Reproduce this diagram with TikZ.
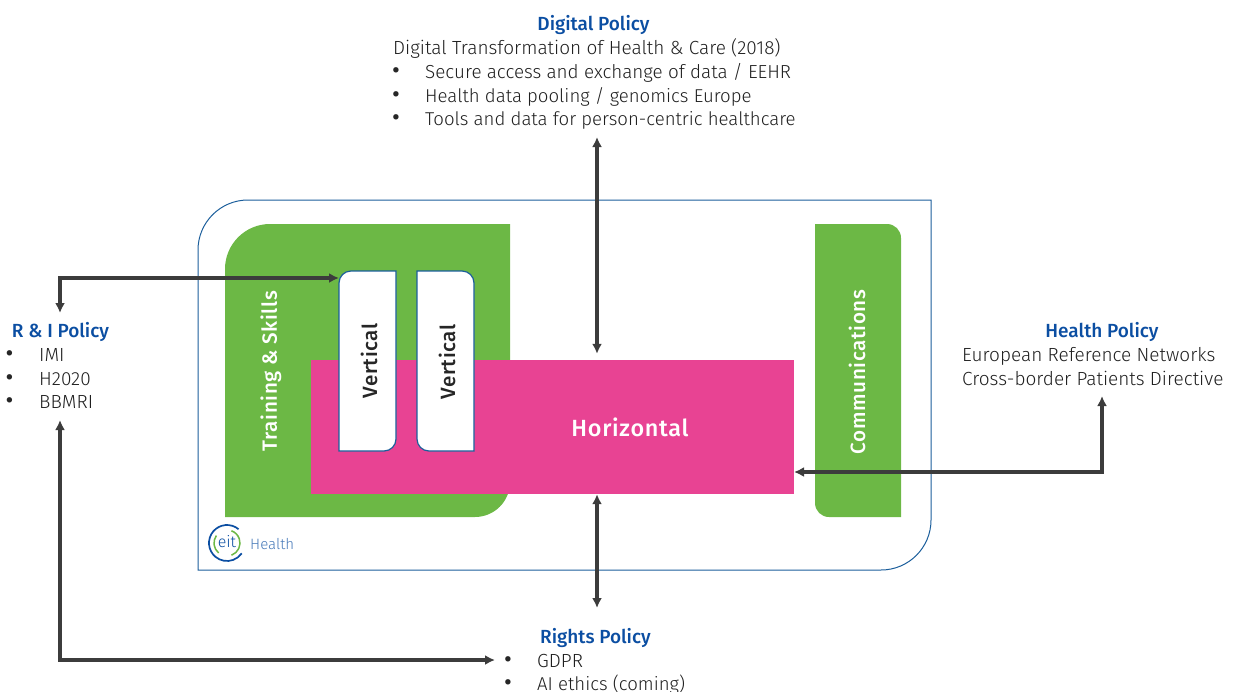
\documentclass[tikz,border=0pt]{standalone}
\usepackage{fontspec}
\setmainfont{Fira Sans Light}[BoldFont={Fira Sans Medium}]
\newfontfamily\boxfont{Fira Sans Medium}[LetterSpace=3]
\newfontfamily\bulfont{Fira Sans}
\usetikzlibrary{arrows.meta}
\definecolor{eblue}{HTML}{0B4EA2}
\definecolor{egreen}{HTML}{6CB845}
\definecolor{epink}{HTML}{E84393}
\definecolor{edark}{HTML}{3C3C3C}
\definecolor{eedge}{HTML}{1B5E9B}
\tikzset{
 x=1pt,y=-1pt,
 arr/.style={draw=edark,line width=3.1pt,{Latex[length=10pt,width=10pt]}-{Latex[length=10pt,width=10pt]}},
 head/.style={anchor=base,inner sep=0pt,font=\fontsize{19}{19}\selectfont\bfseries,text=eblue},
 body/.style={anchor=base west,inner sep=0pt,font=\fontsize{19}{19}\selectfont,text=black!88},
 bodyn/.style={body,font=\fontsize{18.6}{19}\selectfont},
 bul/.style={anchor=base west,inner sep=0pt,font=\fontsize{24}{24}\bulfont,text=black!85},
 inbox/.style={anchor=center,inner sep=0pt,font=\fontsize{20.6}{21}\selectfont\boxfont,text=white},
 vert/.style={fill=white,draw=eedge,line width=1.2pt},
}
\begin{document}
\begin{tikzpicture}
\useasboundingbox (0,0) rectangle (1236,691);
% outer frame
\draw[eedge,line width=1pt] (198,250) arc[start angle=180,end angle=270,radius=50] -- (931,200) -- (931,520) arc[start angle=0,end angle=90,radius=50] -- (198,570) -- cycle;
% green panels
\fill[egreen] (225,269) arc[start angle=180,end angle=270,radius=45] -- (510,224) -- (510,482) arc[start angle=0,end angle=90,radius=35] -- (225,517) -- cycle;
\fill[egreen] (815,224) -- (887,224) arc[start angle=270,end angle=360,radius=14] -- (901,517) -- (829,517) arc[start angle=90,end angle=180,radius=14] -- cycle;
\node[minimum width=483pt,minimum height=134pt,inner sep=0pt,fill=epink] (pink) at (552.5,427) {};
\node[inbox,font=\fontsize{23.4}{24}\selectfont\boxfont] (horiz) at (630,427) {Horizontal};
% verticals
\draw[vert] (339,283) arc[start angle=180,end angle=270,radius=12] -- (396,271) -- (396,439) arc[start angle=0,end angle=90,radius=12] -- (339,451) -- cycle;
\draw[vert] (417,271) -- (462,271) arc[start angle=270,end angle=360,radius=12] -- (474,451) -- (429,451) arc[start angle=90,end angle=180,radius=12] -- cycle;
\node[inbox,text=black!85,rotate=90] (v1) at (369,361) {Vertical};
\node[inbox,text=black!85,rotate=90] (v2) at (447,362) {Vertical};
\node[inbox,rotate=90] (train) at (271,371) {Training \& Skills};
\node[inbox,rotate=90] (comm) at (857,372) {Communications};
% logo
\draw[eblue,line width=1.7pt] (227,543) ++(-50:18) arc[start angle=-50,end angle=-325,radius=18];
\draw[egreen,line width=1.5pt] (227,543) ++(70:13) arc[start angle=70,end angle=-70,radius=13];
\draw[egreen,line width=1.5pt] (227,543) ++(215:13) arc[start angle=215,end angle=130,radius=13];
\node[anchor=center,inner sep=0pt,font=\fontsize{16}{16}\selectfont,text=eblue] (eit) at (227,542) {eit};
\node[anchor=west,inner sep=0pt,font=\fontsize{15}{15}\selectfont,text=eblue!75] (hl) at (250,544) {Health};
% Digital
\node[head] (dh) at (593.5,30) {Digital Policy};
\node[body] (d1) at (393,54) {Digital Transformation of Health \& Care (2018)};
\node[bul] (d2b) at (392,78) {•};
\node[body,font=\fontsize{18.85}{19}\selectfont] (d2) at (425,78) {Secure access and exchange of data / EEHR};
\node[bul] (d3b) at (392,102) {•};
\node[bodyn] (d3) at (425,102) {Health data pooling / genomics Europe};
\node[bul] (d4b) at (392,125.5) {•};
\node[bodyn] (d4) at (425,125.5) {Tools and data for person-centric healthcare};
% R&I
\node[head] (rh) at (60.5,337) {R \& I Policy};
\node[bul] (r1b) at (5.5,361) {•};
\node[body] (r1) at (39,361) {IMI};
\node[bul] (r2b) at (5.5,385) {•};
\node[body] (r2) at (39,385) {H2020};
\node[bul] (r3b) at (5.5,408) {•};
\node[body] (r3) at (39,408) {BBMRI};
% Health
\node[head] (hh) at (1102,337) {Health Policy};
\node[body] (h1) at (962,361) {European Reference Networks};
\node[body] (h2) at (962,385) {Cross-border Patients Directive};
% Rights
\node[head] (gh) at (595.5,643) {Rights Policy};
\node[bul] (g1b) at (504,667) {•};
\node[body] (g1) at (537,667) {GDPR};
\node[bul] (g2b) at (504,690.5) {•};
\node[bodyn] (g2) at (537,690.5) {AI ethics (coming)};
% connectors
\coordinate (dtop) at (597,137);
\coordinate (gbot) at (597,608);
\coordinate (hup) at (1102,396);
\coordinate (rup) at (60,313);
\coordinate (rlow) at (60,420);
\coordinate (gl) at (495,660);
\coordinate (vl) at (339,278);
\coordinate (pr) at (794,472);
\draw[arr] (dtop) -- ([yshift=6pt]dtop |- pink.north);
\draw[arr] (gbot) -- (gbot |- pink.south);
\draw[arr] (hup) |- (pr);
\draw[arr] (rup) |- (vl);
\draw[arr] (rlow) |- (gl);
\end{tikzpicture}
\end{document}
